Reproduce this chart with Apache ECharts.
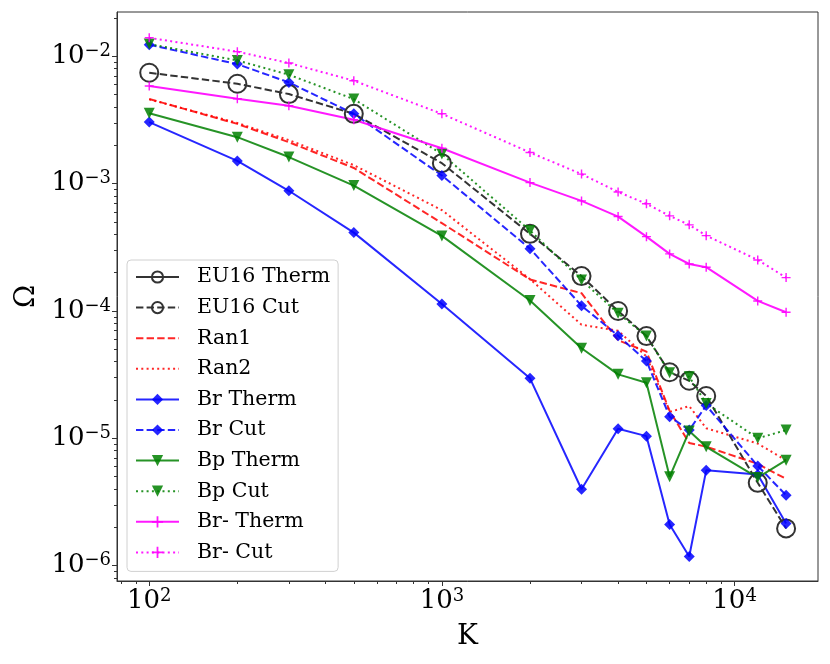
<!DOCTYPE html>
<html>
<head>
<meta charset="utf-8">
<script src="https://cdn.jsdelivr.net/npm/echarts@6/dist/echarts.min.js"></script>
<style>html,body{margin:0;padding:0;background:#fff}#b{width:830px;height:664px}</style>
</head>
<body>
<div id="b"></div>
<script>
// K values shared by all curves
var kVals=[100,200,300,500,1000,2000,3000,4000,5000,6000,7000,8000,12000,15000];
var eu16Therm=[]; // not visible in the figure
var eu16Cut=[7.44e-3,6.1e-3,5.06e-3,3.54e-3,1.45e-3,4.04e-4,1.88e-4,1.0e-4,6.35e-5,3.3e-5,2.83e-5,2.15e-5,4.47e-6,1.96e-6];
var ran1=[4.63e-3,2.95e-3,2.12e-3,1.33e-3,4.9e-4,1.77e-4,1.38e-4,5.9e-5,4.8e-5,1.64e-5,9.2e-6,8.6e-6,6.3e-6,4.8e-6];
var ran2=[4.6e-3,3.0e-3,2.2e-3,1.4e-3,6.2e-4,1.78e-4,7.8e-5,7.0e-5,4.4e-5,1.61e-5,1.79e-5,1.2e-5,9.1e-6,6.7e-6];
var brTherm=[3.05e-3,1.51e-3,8.8e-4,4.13e-4,1.135e-4,2.96e-5,3.98e-6,1.19e-5,1.04e-5,2.1e-6,1.18e-6,5.6e-6,5.2e-6,2.14e-6];
var brCut=[1.236e-2,8.7e-3,6.25e-3,3.54e-3,1.16e-3,3.09e-4,1.1e-4,6.4e-5,4.05e-5,1.48e-5,1.16e-5,1.81e-5,6.07e-6,3.57e-6];
var bpTherm=[3.58e-3,2.32e-3,1.62e-3,9.66e-4,3.89e-4,1.21e-4,5.1e-5,3.18e-5,2.73e-5,4.98e-6,1.14e-5,8.57e-6,4.92e-6,6.73e-6];
var bpCut=[1.25e-2,9.3e-3,7.18e-3,4.62e-3,1.71e-3,4.29e-4,1.75e-4,9.6e-5,6.35e-5,3.27e-5,3.04e-5,1.88e-5,1.0e-5,1.16e-5];
var brmTherm=[5.85e-3,4.65e-3,4.09e-3,3.18e-3,1.9e-3,1.02e-3,7.33e-4,5.52e-4,3.84e-4,2.81e-4,2.34e-4,2.21e-4,1.2e-4,9.77e-5];
var brmCut=[1.4e-2,1.09e-2,8.87e-3,6.45e-3,3.54e-3,1.76e-3,1.19e-3,8.62e-4,6.95e-4,5.59e-4,4.75e-4,3.91e-4,2.52e-4,1.83e-4];

var xMajor=[100,1000,10000];
var yMajor=[1e-6,1e-5,1e-4,1e-3,1e-2];

function pairs(arr){ return arr.map(function(v,i){ return [kVals[i],v]; }); }
function minorTicks(lo,hi){
  var out=[];
  for(var e=-8;e<=5;e++){
    for(var m=2;m<=9;m++){
      var v=m*Math.pow(10,e);
      if(v>=lo && v<=hi) out.push(v);
    }
  }
  return out;
}
function sup(v){
  var e=Math.round(Math.log10(v));
  return '{b|10}{s|'+(e<0?'\u2212'+(-e):e)+'}';
}
var rich={
  b:{fontFamily:'DejaVu Serif',fontSize:26,lineHeight:28,color:'#000'},
  s:{fontFamily:'DejaVu Serif',fontSize:18,lineHeight:26,color:'#000',verticalAlign:'top'}
};
var xMin=77.6,xMax=19280,yMin=7.57e-7,yMax=0.02233;
var dash=[7.4,3.2], dot=[2,3.3];
var plusPath='path://M0.42,0H0.58V0.42H1V0.58H0.58V1H0.42V0.58H0V0.42H0.42Z';

function mk(name,arr,color,type,symbol,size,extra){
  var s={
    name:name,type:'line',data:pairs(arr),
    symbol:symbol,symbolSize:size,
    lineStyle:{color:color,width:2,type:type},
    itemStyle:{color:color},
    emphasis:{disabled:true}
  };
  for(var k in extra) s[k]=extra[k];
  return s;
}

var myChart=echarts.init(document.getElementById('b'));
var option={
  animation:false,
  grid:{left:117,right:12,top:12,bottom:83,show:true,borderColor:'#333',borderWidth:1},
  legend:{
    orient:'vertical',left:127,top:260,
    padding:[6,8,8,8],itemGap:8.6,itemWidth:43,itemHeight:14,
    backgroundColor:'rgba(255,255,255,0.8)',borderColor:'#d0d0d0',borderWidth:1,borderRadius:4,
    textStyle:{fontFamily:'DejaVu Serif',fontSize:20.5,lineHeight:22,color:'#000'},
    formatter:function(n){ return '  '+n; },
    data:['EU16 Therm','EU16 Cut',
      {name:'Ran1',itemStyle:{opacity:0}},{name:'Ran2',itemStyle:{opacity:0}},
      'Br Therm','Br Cut','Bp Therm','Bp Cut','Br- Therm','Br- Cut']
  },
  xAxis:[{
    type:'log',logBase:10,min:xMin,max:xMax,
    axisLine:{lineStyle:{color:'#333',width:1}},
    axisTick:{customValues:xMajor,length:5,lineStyle:{color:'#333'}},
    axisLabel:{customValues:xMajor,formatter:sup,rich:rich,margin:6},
    splitLine:{show:false},
    name:'K',nameLocation:'middle',nameGap:42,
    nameTextStyle:{fontFamily:'DejaVu Serif',fontSize:28,color:'#000'}
  },{
    type:'log',logBase:10,min:xMin,max:xMax,position:'bottom',
    axisLine:{show:false},axisLabel:{show:false},splitLine:{show:false},
    axisTick:{customValues:minorTicks(xMin,xMax),length:3,lineStyle:{color:'#333'}}
  }],
  yAxis:[{
    type:'log',logBase:10,min:yMin,max:yMax,
    axisLine:{lineStyle:{color:'#333',width:1}},
    axisTick:{customValues:yMajor,length:5,lineStyle:{color:'#333'}},
    axisLabel:{customValues:yMajor,formatter:sup,rich:rich,margin:6},
    splitLine:{show:false},
    name:'\u03a9',nameLocation:'middle',nameGap:72,
    nameTextStyle:{fontFamily:'DejaVu Serif',fontSize:28,color:'#000'}
  },{
    type:'log',logBase:10,min:yMin,max:yMax,position:'left',
    axisLine:{show:false},axisLabel:{show:false},splitLine:{show:false},
    axisTick:{customValues:minorTicks(yMin,yMax),length:3,lineStyle:{color:'#333'}}
  }],
  series:[
    mk('EU16 Therm',eu16Therm,'#333','solid','circle',18,{itemStyle:{color:'rgba(0,0,0,0)',borderColor:'#333',borderWidth:2}}),
    mk('EU16 Cut',eu16Cut,'#333',dash,'circle',18,{itemStyle:{color:'rgba(0,0,0,0)',borderColor:'#333',borderWidth:2}}),
    mk('Ran1',ran1,'rgba(255,0,0,0.85)',dash,'none',0),
    mk('Ran2',ran2,'rgba(255,0,0,0.85)',dot,'none',0),
    mk('Br Therm',brTherm,'rgba(0,0,255,0.85)','solid','diamond',11),
    mk('Br Cut',brCut,'rgba(0,0,255,0.85)',dash,'diamond',11),
    mk('Bp Therm',bpTherm,'rgba(0,128,0,0.85)','solid','triangle',11,{symbolRotate:180}),
    mk('Bp Cut',bpCut,'rgba(0,128,0,0.85)',dot,'triangle',11,{symbolRotate:180}),
    mk('Br- Therm',brmTherm,'rgba(255,0,255,0.9)','solid',plusPath,9),
    mk('Br- Cut',brmCut,'rgba(255,0,255,0.9)',dot,plusPath,9)
  ]
};
option && myChart.setOption(option);
</script>
</body>
</html>
